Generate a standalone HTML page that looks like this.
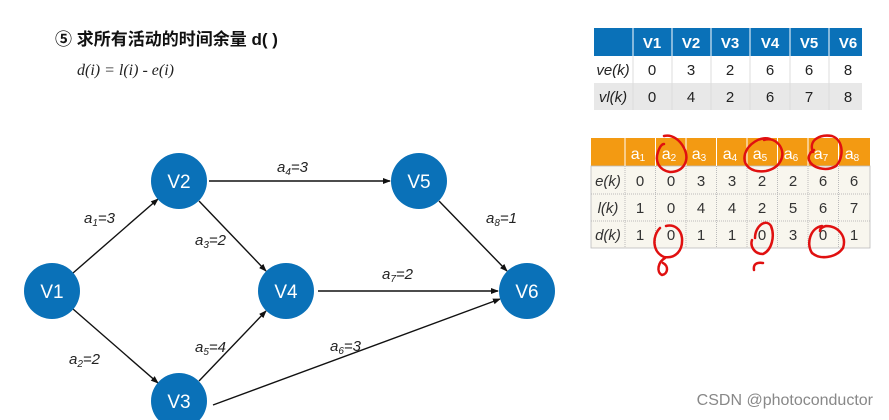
<!DOCTYPE html>
<html><head><meta charset="utf-8"><style>
html,body{margin:0;padding:0;background:#fff;}
svg{display:block;}
</style></head><body>
<svg width="889" height="420" viewBox="0 0 889 420" xmlns="http://www.w3.org/2000/svg" font-family="Liberation Sans, Noto Sans CJK SC, sans-serif">
<defs><marker id="ar" markerWidth="8" markerHeight="8" refX="7" refY="4" orient="auto" markerUnits="userSpaceOnUse"><path d="M0,1 L8,4 L0,7 z" fill="#111"/></marker></defs>
<text x="55" y="45" font-size="17" font-weight="bold" fill="#111">⑤ 求所有活动的时间余量 d( )</text>
<text x="77" y="75" font-size="16" font-style="italic" font-family="Liberation Serif, serif" fill="#222">d(i) = l(i) - e(i)</text>

<g stroke="#111" stroke-width="1.4" marker-end="url(#ar)">
<line x1="73" y1="273" x2="158" y2="199"/>
<line x1="73" y1="309" x2="158" y2="383"/>
<line x1="209" y1="181" x2="390" y2="181"/>
<line x1="199" y1="201" x2="266" y2="271"/>
<line x1="199" y1="381" x2="266" y2="311"/>
<line x1="213" y1="405" x2="500" y2="299"/>
<line x1="318" y1="291" x2="498" y2="291"/>
<line x1="439" y1="201" x2="507" y2="271"/>
</g>
<g font-size="15" font-style="italic" fill="#222">
<text x="84" y="223">a<tspan font-size="10" dy="3">1</tspan><tspan dy="-3">=3</tspan></text>
<text x="195" y="245">a<tspan font-size="10" dy="3">3</tspan><tspan dy="-3">=2</tspan></text>
<text x="277" y="172">a<tspan font-size="10" dy="3">4</tspan><tspan dy="-3">=3</tspan></text>
<text x="486" y="223">a<tspan font-size="10" dy="3">8</tspan><tspan dy="-3">=1</tspan></text>
<text x="382" y="279">a<tspan font-size="10" dy="3">7</tspan><tspan dy="-3">=2</tspan></text>
<text x="195" y="352">a<tspan font-size="10" dy="3">5</tspan><tspan dy="-3">=4</tspan></text>
<text x="330" y="351">a<tspan font-size="10" dy="3">6</tspan><tspan dy="-3">=3</tspan></text>
<text x="69" y="364">a<tspan font-size="10" dy="3">2</tspan><tspan dy="-3">=2</tspan></text>
</g>
<g fill="#0a71b8">
<circle cx="52" cy="291" r="28"/><circle cx="179" cy="181" r="28"/><circle cx="179" cy="401" r="28"/>
<circle cx="286" cy="291" r="28"/><circle cx="419" cy="181" r="28"/><circle cx="527" cy="291" r="28"/>
</g>
<g fill="#fff" font-size="19" text-anchor="middle">
<text x="52" y="298">V1</text><text x="179" y="188">V2</text><text x="179" y="408">V3</text>
<text x="286" y="298">V4</text><text x="419" y="188">V5</text><text x="527" y="298">V6</text>
</g>

<!-- table 1 -->
<rect x="594" y="28" width="268" height="28" fill="#0a71b8"/>
<rect x="594" y="56" width="268" height="27" fill="#fff"/>
<rect x="594" y="83" width="268" height="27" fill="#e8e8e8"/>
<g stroke="#fff" stroke-width="1"><line x1="633" y1="28" x2="633" y2="56"/><line x1="672" y1="28" x2="672" y2="56"/><line x1="711" y1="28" x2="711" y2="56"/><line x1="750" y1="28" x2="750" y2="56"/><line x1="790" y1="28" x2="790" y2="56"/><line x1="829" y1="28" x2="829" y2="56"/></g>
<g stroke="#ddd" stroke-width="1"><line x1="633" y1="56" x2="633" y2="110"/><line x1="672" y1="56" x2="672" y2="110"/><line x1="711" y1="56" x2="711" y2="110"/><line x1="750" y1="56" x2="750" y2="110"/><line x1="790" y1="56" x2="790" y2="110"/><line x1="829" y1="56" x2="829" y2="110"/></g>
<g font-size="15" text-anchor="middle" fill="#fff" font-weight="bold">
<text x="652" y="48">V1</text><text x="691" y="48">V2</text><text x="730" y="48">V3</text><text x="770" y="48">V4</text><text x="809" y="48">V5</text><text x="848" y="48">V6</text></g>
<g font-size="15" text-anchor="middle" fill="#222">
<text x="613" y="75" font-style="italic">ve(k)</text><text x="652" y="75">0</text><text x="691" y="75">3</text><text x="730" y="75">2</text><text x="770" y="75">6</text><text x="809" y="75">6</text><text x="848" y="75">8</text>
<text x="613" y="102" font-style="italic">vl(k)</text><text x="652" y="102">0</text><text x="691" y="102">4</text><text x="730" y="102">2</text><text x="770" y="102">6</text><text x="809" y="102">7</text><text x="848" y="102">8</text>
</g>

<!-- table 2 -->
<rect x="591" y="138" width="279" height="28" fill="#f39a12"/>
<rect x="591" y="166" width="279" height="82" fill="#f8f6ee" stroke="#bbb" stroke-width="0.8"/>
<g stroke="#fff"><line x1="625" y1="138" x2="625" y2="166"/><line x1="655.5" y1="138" x2="655.5" y2="166"/><line x1="686" y1="138" x2="686" y2="166"/><line x1="716.5" y1="138" x2="716.5" y2="166"/><line x1="747" y1="138" x2="747" y2="166"/><line x1="777.5" y1="138" x2="777.5" y2="166"/><line x1="808" y1="138" x2="808" y2="166"/><line x1="838.5" y1="138" x2="838.5" y2="166"/></g>
<g stroke="#bbb" stroke-dasharray="1,1"><line x1="625" y1="166" x2="625" y2="248"/><line x1="655.5" y1="166" x2="655.5" y2="248"/><line x1="686" y1="166" x2="686" y2="248"/><line x1="716.5" y1="166" x2="716.5" y2="248"/><line x1="747" y1="166" x2="747" y2="248"/><line x1="777.5" y1="166" x2="777.5" y2="248"/><line x1="808" y1="166" x2="808" y2="248"/><line x1="838.5" y1="166" x2="838.5" y2="248"/><line x1="591" y1="194" x2="870" y2="194"/><line x1="591" y1="221" x2="870" y2="221"/></g>
<g font-size="16" fill="#fff" text-anchor="middle">
<text x="638" y="159">a<tspan font-size="10" dy="2">1</tspan></text><text x="669" y="159">a<tspan font-size="10" dy="2">2</tspan></text><text x="699" y="159">a<tspan font-size="10" dy="2">3</tspan></text><text x="730" y="159">a<tspan font-size="10" dy="2">4</tspan></text><text x="760" y="159">a<tspan font-size="10" dy="2">5</tspan></text><text x="791" y="159">a<tspan font-size="10" dy="2">6</tspan></text><text x="821" y="159">a<tspan font-size="10" dy="2">7</tspan></text><text x="852" y="159">a<tspan font-size="10" dy="2">8</tspan></text></g>
<g font-size="15" fill="#333" text-anchor="middle">
<text x="608" y="186" font-style="italic">e(k)</text><text x="640" y="186">0</text><text x="671" y="186">0</text><text x="701" y="186">3</text><text x="732" y="186">3</text><text x="762" y="186">2</text><text x="793" y="186">2</text><text x="823" y="186">6</text><text x="854" y="186">6</text>
<text x="608" y="213" font-style="italic">l(k)</text><text x="640" y="213">1</text><text x="671" y="213">0</text><text x="701" y="213">4</text><text x="732" y="213">4</text><text x="762" y="213">2</text><text x="793" y="213">5</text><text x="823" y="213">6</text><text x="854" y="213">7</text>
<text x="608" y="240" font-style="italic">d(k)</text><text x="640" y="240">1</text><text x="671" y="240">0</text><text x="701" y="240">1</text><text x="732" y="240">1</text><text x="762" y="240">0</text><text x="793" y="240">3</text><text x="823" y="240">0</text><text x="854" y="240">1</text>
</g>
<g fill="none" stroke="#e01010" stroke-width="2.5" stroke-linecap="round">
<path d="M664,136 C672,134 680,140 684,148 C690,160 684,172 670,172 C658,170 655,160 658,152 C660,146 662,144 664,144"/>
<path d="M770,139 C760,136 748,144 745,154 C742,166 752,173 766,171 C780,168 786,156 780,146 C776,140 770,138 764,140"/>
<path d="M813,152 C808,140 820,134 832,136 C844,140 844,158 836,166 C826,172 812,168 809,160 C808,156 810,152 814,150"/>
<path d="M660,228 C652,236 652,252 664,257 C676,259 683,250 682,238 C681,229 674,224 666,226"/>
<path d="M665,258 C658,262 656,272 662,275 C668,274 669,266 663,263"/>
<path d="M755,238 C755,226 766,218 771,226 C775,236 772,250 763,254 C754,254 750,246 752,240"/>
<path d="M763,263 C757,262 753,264 754,270"/>
<path d="M822,226 C810,228 806,244 812,253 C820,260 836,258 843,248 C847,236 838,226 826,226 C822,227 820,229 820,231"/>
</g>
<text x="873" y="405" font-size="16" fill="#888" text-anchor="end">CSDN @photoconductor</text>
</svg>
</body></html>
